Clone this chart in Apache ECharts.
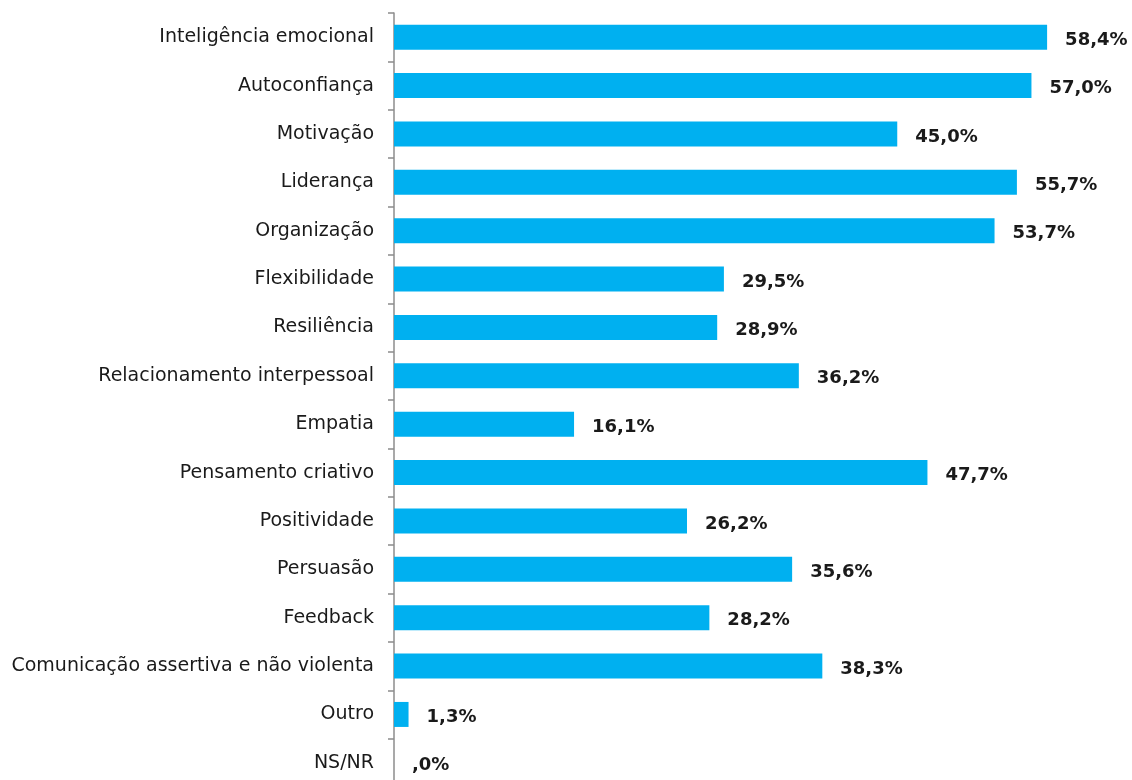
<!DOCTYPE html>
<html>
<head>
<meta charset="utf-8">
<script src="https://cdn.jsdelivr.net/npm/echarts@6/dist/echarts.min.js"></script>
<style>
  html, body { margin: 0; padding: 0; background: #fff; overflow: hidden; }
  #chart { width: 1132px; height: 800px; }
</style>
</head>
<body>
<div id="chart"></div>
<script>
// categorias (de cima para baixo)
const categories = [
  'Inteligência emocional', 'Autoconfiança', 'Motivação', 'Liderança', 'Organização',
  'Flexibilidade', 'Resiliência', 'Relacionamento interpessoal', 'Empatia',
  'Pensamento criativo', 'Positividade', 'Persuasão', 'Feedback',
  'Comunicação assertiva e não violenta', 'Outro', 'NS/NR'
]
const values = [58.4, 57.0, 45.0, 55.7, 53.7, 29.5, 28.9, 36.2, 16.1, 47.7, 26.2, 35.6, 28.2, 38.3, 1.3, 0.0]

function fmtPct(v) {
  let s = v.toFixed(1).replace('.', ',')
  if (s.startsWith('0,')) s = s.slice(1) // estilo Excel: ",0%"
  return s + '%'
}

const chart = echarts.init(document.getElementById('chart'))

// a área do gráfico continua abaixo da janela (780px), como na imagem original
const option = {
  backgroundColor: '#fff',
  animation: false,
  grid: { left: 394, right: 67, top: 13, bottom: 13, containLabel: false },
  xAxis: {
    type: 'value',
    min: 0,
    max: 60,
    show: false
  },
  yAxis: {
    type: 'category',
    inverse: true,
    data: categories,
    axisLine: { show: true, lineStyle: { color: '#8c8c8c', width: 1.5 } },
    axisTick: { show: true, length: 6, lineStyle: { color: '#8c8c8c', width: 1.5 } },
    axisLabel: {
      color: '#1a1a1a',
      fontFamily: 'DejaVu Sans',
      fontSize: 19,
      margin: 20
    }
  },
  series: [{
    type: 'bar',
    data: values,
    barWidth: 25,
    itemStyle: { color: '#00B0F0' },
    label: {
      show: true,
      position: 'right',
      distance: 18,
      offset: [0, 3],
      color: '#1a1a1a',
      fontFamily: 'DejaVu Sans',
      fontWeight: 'bold',
      fontSize: 18,
      formatter: p => fmtPct(p.value)
    }
  }]
}

chart.setOption(option)
</script>
</body>
</html>
